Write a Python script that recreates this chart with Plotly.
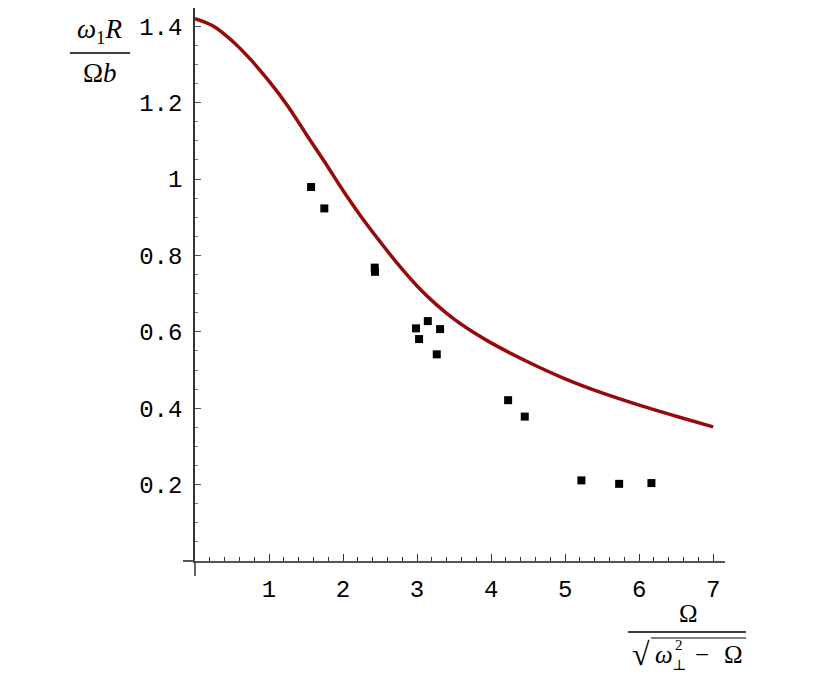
import plotly.graph_objects as go

# theory curve
curve_x = [0.0, 0.25, 0.5, 0.75, 1.0, 1.25, 1.5, 1.75, 2.0, 2.25, 2.5, 2.75, 3.0,
           3.25, 3.5, 3.75, 4.0, 4.5, 5.0, 5.5, 6.0, 6.5, 7.0]
curve_y = [1.420, 1.400, 1.362, 1.313, 1.256, 1.192, 1.118, 1.045, 0.970, 0.900,
           0.836, 0.775, 0.720, 0.673, 0.633, 0.600, 0.571, 0.521, 0.477, 0.440,
           0.408, 0.379, 0.351]

# measured points
pts_x = [1.568, 1.747, 2.428, 2.432, 2.986, 3.145, 3.311, 3.027, 3.266, 4.23, 4.455,
         5.22, 5.73, 6.166]
pts_y = [0.979, 0.923, 0.768, 0.757, 0.609, 0.628, 0.607, 0.581, 0.541, 0.421, 0.378,
         0.211, 0.202, 0.204]

x_ticks = [1, 2, 3, 4, 5, 6, 7]
y_ticks = [0.2, 0.4, 0.6, 0.8, 1.0, 1.2, 1.4]
y_tick_text = ["0.2", "0.4", "0.6", "0.8", "1", "1.2", "1.4"]

# plot-area geometry in figure pixels (page has an 8px body margin)
OFF = 8
L, T, W, H = 187, 0, 530, 553
FW, FH = 830, 694

fig = go.Figure()
fig.add_trace(go.Scatter(x=curve_x, y=curve_y, mode="lines",
                         line=dict(color="#960a0a", width=3.5, shape="spline"),
                         showlegend=False))
fig.add_trace(go.Scatter(x=pts_x, y=pts_y, mode="markers",
                         marker=dict(symbol="square", size=8, color="black"),
                         showlegend=False))

tickfont = dict(family="Liberation Mono", size=24, color="black")
fig.update_layout(
    width=FW, height=FH,
    margin=dict(l=L, r=FW - L - W, t=T, b=FH - T - H, pad=0, autoexpand=False),
    paper_bgcolor="white", plot_bgcolor="white",
    xaxis=dict(range=[0, 7.16], showgrid=False, zeroline=False, automargin=False,
               showline=True, linecolor="#555", linewidth=2,
               tickvals=x_ticks, ticks="inside", ticklen=7, tickcolor="#333",
               tickfont=tickfont, ticklabelstandoff=5,
               minor=dict(dtick=0.2, tick0=0, ticks="inside", ticklen=4,
                          tickcolor="#333", showgrid=False)),
    yaxis=dict(range=[0, 553 / 382], showgrid=False, zeroline=False, automargin=False,
               showline=True, linecolor="#333", linewidth=1.5,
               tickvals=y_ticks, ticktext=y_tick_text, ticks="inside",
               ticklen=6, tickcolor="#555", tickfont=tickfont,
               ticklabelstandoff=6,
               minor=dict(dtick=0.05, tick0=0, ticks="inside", ticklen=3,
                          tickcolor="#777", showgrid=False)),
)


def px(x):
    return (x - OFF - L) / W


def py(y):
    return (T + H - (y - OFF)) / H


# axis extensions (Maple-style crossing axes)
fig.add_shape(type="line", xref="paper", yref="paper",
              x0=px(183), x1=px(195), y0=py(561), y1=py(561),
              line=dict(color="#555", width=2))
fig.add_shape(type="line", xref="paper", yref="paper",
              x0=px(195), x1=px(195), y0=py(561), y1=py(576),
              line=dict(color="#333", width=1.5))

serif = "Liberation Serif"
annots = [
    ("<i>ω</i><sub>1</sub><i>R</i>", 100, 31, 27, serif),
    ("Ω<i>b</i>", 100, 73, 27, serif),
    ("Ω", 688, 613, 25, serif),
    ("√", 641, 654, 32, serif),
    ("<i>ω</i>", 664, 655, 25, serif),
    ("2", 679, 645, 15, serif),
    ("⊥", 679, 665, 15, "DejaVu Serif"),
    ("−", 702, 655, 25, serif),
    ("Ω", 733, 655, 25, serif),
]
for text, ax, ay, size, fam in annots:
    fig.add_annotation(x=px(ax), y=py(ay), xref="paper", yref="paper",
                       text=text, showarrow=False,
                       font=dict(family=fam, size=size, color="black"),
                       xanchor="center", yanchor="middle")


def pline(x0, y0, x1, y1, w=1.5):
    fig.add_shape(type="line", xref="paper", yref="paper",
                  x0=px(x0), x1=px(x1), y0=py(y0), y1=py(y1),
                  line=dict(color="black", width=w))


pline(70, 53, 130, 53)
pline(628, 632, 746, 632)
pline(651, 638, 746, 638, 1.2)

fig.write_html("out.html")
